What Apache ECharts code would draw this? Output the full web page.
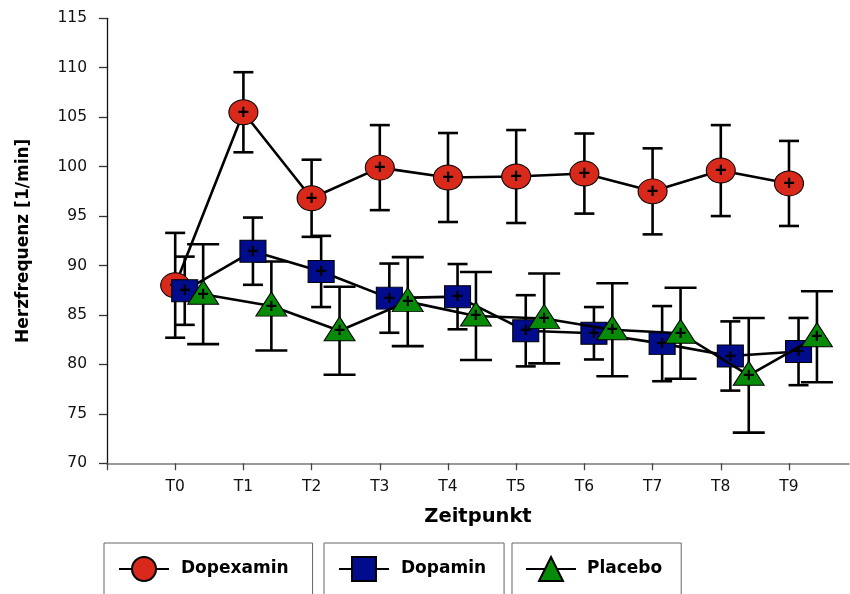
<!DOCTYPE html>
<html>
<head>
<meta charset="utf-8">
<script src="https://cdn.jsdelivr.net/npm/echarts@6/dist/echarts.min.js"></script>
<style>html,body{margin:0;padding:0;background:#fff;}#c{width:850px;height:594px;}</style>
</head>
<body>
<div id="c"></div>
<script>
// ---- data ----
const categories = ['T0','T1','T2','T3','T4','T5','T6','T7','T8','T9'];
const yTicks = [70, 75, 80, 85, 90, 95, 100, 105, 110, 115];
const seriesNames = ['Dopexamin', 'Dopamin', 'Placebo'];
const dopexaminMean = [88.0, 105.5, 96.8, 99.9, 98.9, 99.0, 99.3, 97.5, 99.6, 98.3];
const dopexaminErr  = [5.3, 4.05, 3.9, 4.3, 4.5, 4.7, 4.05, 4.35, 4.6, 4.3];
const dopaminMean   = [87.45, 91.45, 89.4, 86.7, 86.85, 83.4, 83.15, 82.1, 80.85, 81.3];
const dopaminErr    = [3.45, 3.4, 3.6, 3.5, 3.3, 3.6, 2.65, 3.8, 3.5, 3.4];
const placeboMean   = [87.1, 85.9, 83.4, 86.35, 84.9, 84.65, 83.5, 83.15, 78.9, 82.8];
const placeboErr    = [5.05, 4.5, 4.45, 4.5, 4.45, 4.55, 4.7, 4.6, 5.8, 4.6];
// horizontal dodge of each group (in category units)
const dodge = [0, 0.14, 0.41];

const FONT = '"Liberation Sans", Arial, sans-serif';
const BOLD = '"DejaVu Sans", "Liberation Sans", sans-serif';
const TICK = '"DejaVu Sans", "Liberation Sans", sans-serif';
const chart = echarts.init(document.getElementById('c'), null, {renderer: 'canvas'});

function pts(means, k) { return means.map((m, i) => [i + dodge[k], m]); }
function bars(means, errs, k) { return means.map((m, i) => [i + dodge[k], m - errs[i], m + errs[i]]); }

function errRender(cap) {
  return function (params, api) {
    const x = api.value(0), lo = api.value(1), hi = api.value(2);
    const a = api.coord([x, lo]), b = api.coord([x, hi]);
    const st = {stroke: '#000', lineWidth: 2.6};
    const h = cap / 2;
    return {type: 'group', children: [
      {type: 'line', shape: {x1: a[0], y1: a[1], x2: b[0], y2: b[1]}, style: st},
      {type: 'line', shape: {x1: b[0] - h, y1: b[1], x2: b[0] + h, y2: b[1]}, style: st},
      {type: 'line', shape: {x1: a[0] - h, y1: a[1], x2: a[0] + h, y2: a[1]}, style: st}
    ]};
  };
}

const means = [dopexaminMean, dopaminMean, placeboMean];
const errs = [dopexaminErr, dopaminErr, placeboErr];
const colors = ['#d8291a', '#000c8c', '#078a07'];
const symbols = ['circle', 'rect', 'triangle'];
const sizes = [[29, 25], [26, 22], [31, 24]];
const offsets = [[0, 0], [0, 0], [0, -2]];
const labelOff = [[0, 1], [0, 1], [0, 3]];
const caps = [20, 20, 32];

const series = [];
for (let k = 0; k < 3; k++) {
  series.push({
    type: 'custom', name: seriesNames[k] + '_err', z: 1, silent: true,
    renderItem: errRender(caps[k]),
    encode: {x: 0, y: [1, 2]},
    data: bars(means[k], errs[k], k)
  });
}
for (let k = 0; k < 3; k++) {
  series.push({
    type: 'line', name: seriesNames[k], z: 3 + k,
    data: pts(means[k], k),
    symbol: symbols[k], symbolSize: sizes[k], symbolOffset: offsets[k],
    lineStyle: {color: '#000', width: 2.6},
    itemStyle: {color: colors[k], borderColor: '#000', borderWidth: 1},
    label: {show: true, position: 'inside', formatter: '+', color: '#000',
            fontSize: 20, fontWeight: 'bold', fontFamily: FONT, offset: labelOff[k]},
    emphasis: {disabled: true},
    animation: false
  });
}

const legendBoxes = [
  {left: 104, top: 543, padL: 14, padR: 24, txtPad: 7},
  {left: 324, top: 543, padL: 14, padR: 18, txtPad: 7},
  {left: 512, top: 543, padL: 13, padR: 19, txtPad: 6}
];

const option = {
  backgroundColor: '#fff',
  animation: false,
  grid: {left: 107, right: 1, top: 18.3, bottom: 130.7, containLabel: false},
  xAxis: {
    type: 'value', min: -1, max: 9.88,
    name: 'Zeitpunkt', nameLocation: 'middle', nameGap: 44,
    nameTextStyle: {fontSize: 19.5, fontWeight: 'bold', fontFamily: BOLD, color: '#000'},
    axisLine: {onZero: false, lineStyle: {color: '#777', width: 1.5}},
    axisTick: {show: true, length: 7, lineStyle: {color: '#444', width: 1.3},
               customValues: [-1].concat(categories.map((c, i) => i))},
    axisLabel: {fontSize: 15.5, fontFamily: TICK, color: '#111', margin: 16,
                customValues: categories.map((c, i) => i),
                formatter: v => categories[Math.round(v)] || ''},
    splitLine: {show: false}
  },
  yAxis: {
    type: 'value', min: yTicks[0], max: yTicks[yTicks.length - 1], interval: 5,
    name: 'Herzfrequenz [1/min]', nameLocation: 'middle', nameGap: 75, nameRotate: 90,
    nameTextStyle: {fontSize: 17, fontWeight: 'bold', fontFamily: BOLD, color: '#000'},
    axisLine: {show: true, onZero: false, lineStyle: {color: '#111', width: 1.3}},
    axisTick: {show: true, length: 8, lineStyle: {color: '#333', width: 1.3}},
    axisLabel: {fontSize: 15.5, fontFamily: TICK, color: '#111', margin: 20},
    splitLine: {show: false}
  },
  legend: legendBoxes.map((b, k) => ({
    data: [seriesNames[k]], left: b.left, top: b.top,
    padding: [13, b.padR, 40, b.padL],
    borderColor: '#666', borderWidth: 1, backgroundColor: '#fff',
    itemWidth: 50, itemHeight: 30, selectedMode: false,
    textStyle: {fontSize: 17, fontWeight: 'bold', fontFamily: BOLD, color: '#000',
                padding: [0, 0, 0, b.txtPad]}
  })),
  series: series
};
chart.setOption(option);
</script>
</body>
</html>
